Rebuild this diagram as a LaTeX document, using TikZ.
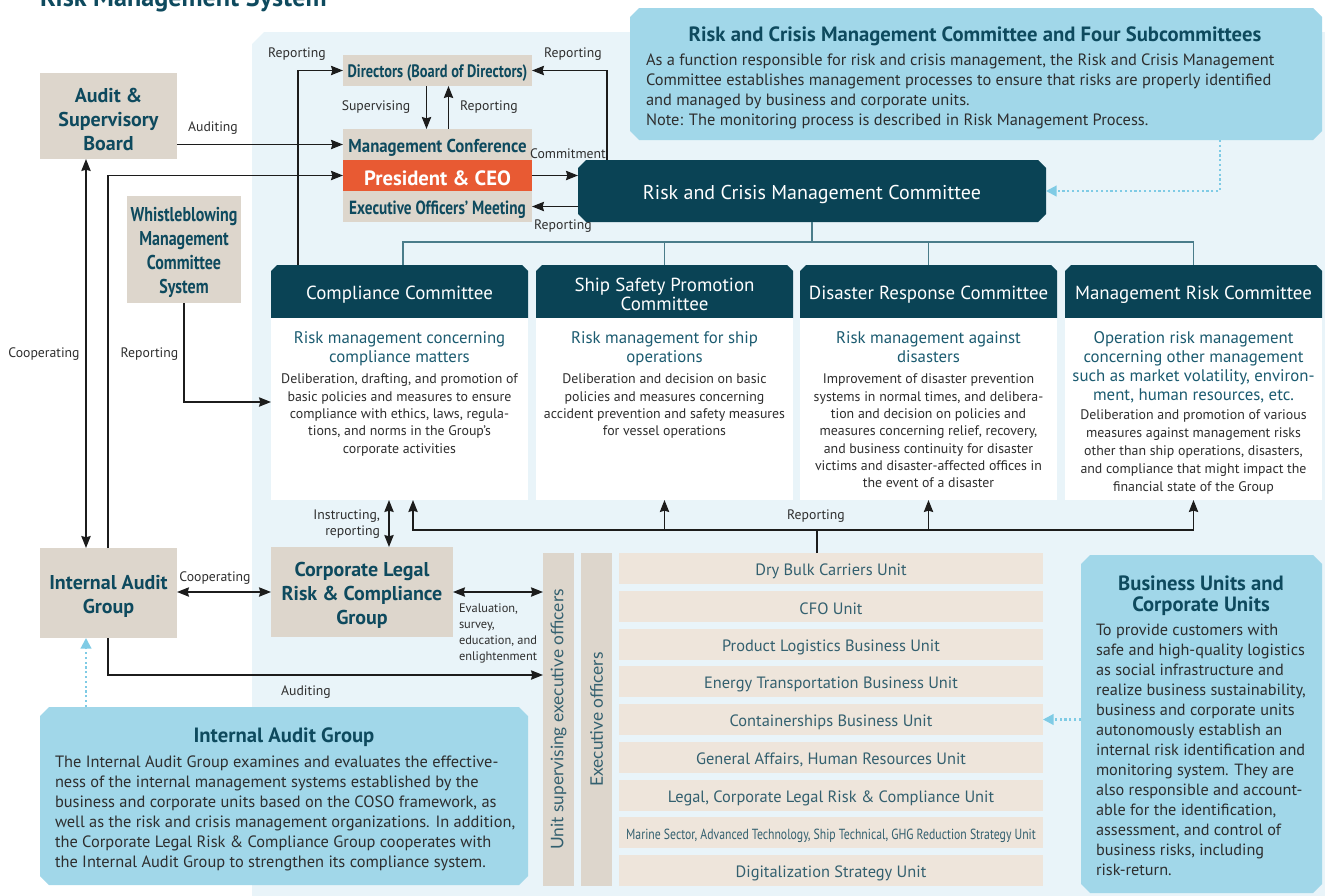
\documentclass[tikz,border=0pt]{standalone}
\usepackage{fontspec}
\setmainfont{PT Sans}
\newfontfamily\cnd[FakeStretch=0.8]{PT Sans}
\newfontfamily\cndm[FakeStretch=0.9]{PT Sans}
\newfontfamily\wide{Lato}
\usetikzlibrary{arrows.meta,calc}
\definecolor{dteal}{HTML}{0A4355}
\definecolor{ttxt}{HTML}{0E4A5E}
\definecolor{tanc}{HTML}{DDD6CC}
\definecolor{ltan}{HTML}{EEE5DB}
\definecolor{orng}{HTML}{E85A33}
\definecolor{lblue}{HTML}{A1D7E9}
\definecolor{panelc}{HTML}{E9F4F9}
\definecolor{subt}{HTML}{1B5B70}
\definecolor{bodyc}{HTML}{2E2E2E}
\definecolor{unitc}{HTML}{33606F}
\definecolor{lnc}{HTML}{1C1C1C}
\definecolor{treec}{HTML}{4A7C8A}
\definecolor{dotc}{HTML}{7FCBE5}
% box node from pixel corners
\newcommand\bx[7]{\node[#6, minimum width={((#4)-(#2))*0.75pt}, minimum height={((#5)-(#3))*0.75pt}] (#1) at ({((#2)+(#4))/2},{((#3)+(#5))/2}) {#7};}
% box node plus its text node (text set 3px lower for optical centring)
\newcommand\bxt[8]{\bx{#1}{#2}{#3}{#4}{#5}{#6}{}\node[#7] (#1t) at ($(#1.center)+(0,3)$) {#8};}
\newcommand\chf[6]{\fill[#1] ({(#2)+(#6)},#3) -- ({(#4)-(#6)},#3) -- (#4,{(#3)+(#6)}) -- (#4,{(#5)-(#6)}) -- ({(#4)-(#6)},#5) -- ({(#2)+(#6)},#5) -- (#2,{(#5)-(#6)}) -- (#2,{(#3)+(#6)}) -- cycle;}
\newcommand\chtop[6]{\fill[#1] ({(#2)+(#6)},#3) -- ({(#4)-(#6)},#3) -- (#4,{(#3)+(#6)}) -- (#4,#5) -- (#2,#5) -- (#2,{(#3)+(#6)}) -- cycle;}
\begin{document}
\begin{tikzpicture}[x=0.75pt,y=-0.75pt,
 base/.style={inner sep=0pt, outer sep=0pt},
 tanfill/.style={base, fill=tanc},
 tantxt/.style={base, text=ttxt, align=center, font=\bfseries\fontsize{15}{18}\selectfont},
 wbtxt/.style={base, text=ttxt, align=center, font=\cnd\bfseries\fontsize{15}{18}\selectfont},
 stacktxt/.style={base, text=ttxt, font=\cnd\bfseries\fontsize{14}{16}\selectfont},
 orngfill/.style={base, fill=orng},
 ceotxt/.style={base, text=white, font=\bfseries\fontsize{15.5}{17}\selectfont},
 darktxt/.style={base, text=white, font=\fontsize{15}{17}\selectfont},
 hdrtxt/.style={base, text=white, align=center, font=\fontsize{14.2}{14.3}\selectfont},
 bodybox/.style={base, fill=white},
 subtxt/.style={base, anchor=north, text=subt, align=center, font=\fontsize{12.6}{14.2}\selectfont},
 desctxt/.style={base, anchor=north, text=bodyc, align=center, font=\fontsize{10.4}{13}\selectfont},
 lbl/.style={base, text=bodyc, font=\fontsize{10.3}{12}\selectfont},
 rowfill/.style={base, fill=ltan},
 rowtxt/.style={base, text=unitc, font=\fontsize{12.3}{14}\selectfont},
 barbox/.style={base, fill=tanc},
 vtxt/.style={base, rotate=90, text=unitc, font=\wide\fontsize{13}{15}\selectfont},
 btitle/.style={base, text=ttxt, align=center, font=\bfseries\fontsize{15.5}{15.75}\selectfont},
 btext/.style={base, anchor=north west, text=bodyc, align=left, font=\fontsize{12.3}{15}\selectfont},
 arr/.style={draw=lnc, line width=1pt, -{Stealth[length=9pt,width=7pt,inset=1pt]}},
 darr/.style={draw=lnc, line width=1pt, {Stealth[length=9pt,width=7pt,inset=1pt]}-{Stealth[length=9pt,width=7pt,inset=1pt]}},
 plain/.style={draw=lnc, line width=1pt},
 tree/.style={draw=treec, line width=0.8pt},
 dotarr/.style={draw=dotc, line width=1.6pt, dotted, -{Triangle[length=8pt,width=8pt]}}
]
\useasboundingbox (0,0) rectangle (1325,896);
% background panel
\fill[panelc] (264,32) -- (1325,32) -- (1325,896) -- (252,896) -- (252,44) -- cycle;
% title
\node[base, anchor=base west, text=ttxt, font=\bfseries\fontsize{19.6}{22}\selectfont] (title) at (40,6) {Risk Management System};

% top right explanation box
\chf{lblue}{630}{8}{1322}{140}{9}
\bx{rcbox}{630}{8}{1322}{140}{base}{}
\node[btitle] (rct) at (975,36) {Risk and Crisis Management Committee and Four Subcommittees};
\node[btext] (rcb) at (646,54) {As a function responsible for risk and crisis management, the Risk and Crisis Management\\Committee establishes management processes to ensure that risks are properly identified\\and managed by business and corporate units.\\Note: The monitoring process is described in Risk Management Process.};

% left tan boxes
\bxt{asb}{40}{73}{177}{159}{tanfill}{tantxt}{Audit \&\\Supervisory\\Board}
\bxt{wb}{127}{196}{241}{303}{tanfill}{wbtxt}{Whistleblowing\\Management\\Committee\\System}
\bxt{iag}{40}{548}{177}{638}{tanfill}{tantxt}{Internal Audit\\Group}
\bxt{clrcg}{271}{547}{453}{637}{tanfill}{tantxt}{Corporate Legal\\Risk \& Compliance\\Group}

% central stack
\bxt{dir}{343}{55}{532}{86}{tanfill}{stacktxt, font=\cnd\bfseries\fontsize{13.5}{16}\selectfont}{Directors (Board of Directors)}
\bxt{mc}{343}{129}{532}{160}{tanfill}{stacktxt, font=\cndm\bfseries\fontsize{14}{16}\selectfont}{Management Conference}
\bxt{ceo}{343}{160}{532}{191}{orngfill}{ceotxt}{President \& CEO}
\bxt{eom}{343}{191}{532}{222}{tanfill}{stacktxt, font=\cnd\bfseries\fontsize{14.3}{16}\selectfont}{Executive Officers’ Meeting}

% risk and crisis management committee
\chf{dteal}{578}{160}{1046}{222}{8}
\bxt{rcmc}{578}{160}{1046}{222}{base}{darktxt}{Risk and Crisis Management Committee}

% committees
\chtop{dteal}{271}{265}{528}{318}{6}
\bxt{hdr1}{271}{265}{528}{318}{base}{hdrtxt}{Compliance Committee}
\bx{body1}{271}{318}{528}{500}{bodybox}{}
\chtop{dteal}{536}{265}{793}{318}{6}
\bxt{hdr2}{536}{265}{793}{318}{base}{hdrtxt}{Ship Safety Promotion\\Committee}
\bx{body2}{536}{318}{793}{500}{bodybox}{}
\chtop{dteal}{800}{265}{1057}{318}{6}
\bxt{hdr3}{800}{265}{1057}{318}{base}{hdrtxt}{Disaster Response Committee}
\bx{body3}{800}{318}{1057}{500}{bodybox}{}
\chtop{dteal}{1065}{265}{1322}{318}{6}
\bxt{hdr4}{1065}{265}{1322}{318}{base}{hdrtxt}{Management Risk Committee}
\bx{body4}{1065}{318}{1322}{500}{bodybox}{}

\node[subtxt] (sub1) at (399.5,331.5) {Risk management concerning\\compliance matters};
\node[desctxt] (desc1) at (399.5,374) {Deliberation, drafting, and promotion of\\basic policies and measures to ensure\\compliance with ethics, laws, regula-\\tions, and norms in the Group’s\\corporate activities};
\node[subtxt] (sub2) at (664.5,331.5) {Risk management for ship\\operations};
\node[desctxt] (desc2) at (664.5,374) {Deliberation and decision on basic\\policies and measures concerning\\accident prevention and safety measures\\for vessel operations};
\node[subtxt] (sub3) at (928.5,331.5) {Risk management against\\disasters};
\node[desctxt] (desc3) at (928.5,374) {Improvement of disaster prevention\\systems in normal times, and delibera-\\tion and decision on policies and\\measures concerning relief, recovery,\\and business continuity for disaster\\victims and disaster-affected offices in\\the event of a disaster};
\node[subtxt] (sub4) at (1193.5,331.5) {Operation risk management\\concerning other management\\such as market volatility, environ-\\ment, human resources, etc.};
\node[desctxt, font=\fontsize{10.4}{13.5}\selectfont] (desc4) at (1193.5,409.5) {Deliberation and promotion of various\\measures against management risks\\other than ship operations, disasters,\\and compliance that might impact the\\financial state of the Group};

% executive bars and unit rows
\bx{bar1}{543}{553}{574}{886}{barbox}{}
\bx{bar2}{581}{553}{612}{886}{barbox}{}
\node[vtxt] (bar1t) at (bar1.center) {Unit supervising executive officers};
\node[vtxt] (bar2t) at (bar2.center) {Executive officers};
\foreach \i/\t in {1/{Dry Bulk Carriers Unit},2/{CFO Unit},3/{Product Logistics Business Unit},4/{Energy Transportation Business Unit},5/{Containerships Business Unit},6/{General Affairs, Human Resources Unit},7/{Legal, Corporate Legal Risk \& Compliance Unit},8/{\cnd\fontsize{11}{13}\selectfont Marine Sector, Advanced Technology, Ship Technical, GHG Reduction Strategy Unit},9/{Digitalization Strategy Unit}}{
 \bxt{row\i}{619}{553+(\i-1)*37.75}{1043}{553+(\i-1)*37.75+31}{rowfill}{rowtxt}{\t}
}

% business units box
\chf{lblue}{1081}{555}{1322}{893}{9}
\bx{bubox}{1081}{555}{1322}{893}{base}{}
\node[btitle] (but) at (1201,595.5) {Business Units and\\Corporate Units};
\node[btext, font=\fontsize{12.2}{15}\selectfont] (bub) at (1096,624) {To provide customers with\\safe and high-quality logistics\\as social infrastructure and\\realize business sustainability,\\business and corporate units\\autonomously establish an\\internal risk identification and\\monitoring system. They are\\also responsible and account-\\able for the identification,\\assessment, and control of\\business risks, including\\risk-return.};

% internal audit group box
\chf{lblue}{40}{707}{528}{885}{9}
\bx{iabox}{40}{707}{528}{885}{base}{}
\node[btitle] (iat) at (284,737) {Internal Audit Group};
\node[btext] (iab) at (55,756) {The Internal Audit Group examines and evaluates the effective-\\ness of the internal management systems established by the\\business and corporate units based on the COSO framework, as\\well as the risk and crisis management organizations. In addition,\\the Corporate Legal Risk \& Compliance Group cooperates with\\the Internal Audit Group to strengthen its compliance system.};

% labels
\node[lbl] (l1) at (297,54) {Reporting};
\node[lbl] (l2) at (573,54) {Reporting};
\node[lbl] (l3) at (376,107) {Supervising};
\node[lbl] (l4) at (489,107) {Reporting};
\node[lbl] (l5) at (213,128) {Auditing};
\node[lbl] (l6) at (568,154) {Commitment};
\node[lbl] (l7) at (563,226) {Reporting};
\node[lbl] (l8) at (44,354) {Cooperating};
\node[lbl] (l9) at (149.5,354) {Reporting};
\node[lbl, anchor=east, align=right] (l10) at (380,524) {Instructing,\\reporting};
\node[lbl] (l11) at (816,516) {Reporting};
\node[lbl] (l12) at (215,578) {Cooperating};
\node[lbl, anchor=north west, align=left, font=\fontsize{9.3}{12}\selectfont] (l13) at (459,604) {Evaluation,\\survey,\\education, and\\enlightenment};
\node[lbl] (l14) at (306,692) {Auditing};

% connectors
\coordinate (c1) at ($(hdr1.north west)+(27,0)$);
\draw[arr] (c1) |- (dir.west);
\coordinate (c2) at ($(rcmc.north west)+(29,0)$);
\draw[arr] (c2) |- (dir.east);
\draw[arr] ($(dir.south)+(-11,0)$) -- ($(mc.north)+(-11,0)$);
\draw[arr] ($(mc.north)+(11,0)$) -- ($(dir.south)+(11,0)$);
\draw[arr] (asb.east |- mc.west) -- (mc.west);
\draw[arr] ($(iag.north west)+(68,0)$) |- (ceo.west);
\draw[darr] ($(asb.south west)+(46,0)$) -- ($(iag.north west)+(46,0)$);
\draw[arr] (ceo.east) -- (ceo.east -| rcmc.west);
\draw[arr] (rcmc.west |- eom.east) -- (eom.east);

\coordinate (tj) at (812,242);
\draw[tree] (rcmc.south) -- (tj);
\draw[tree] ($(hdr1.north)+(3.5,0)$) |- (tj) -| (hdr4.north);
\draw[tree] (hdr2.north) -- (hdr2.north |- tj);
\draw[tree] (hdr3.north) -- (hdr3.north |- tj);

\coordinate (c3) at ($(body1.north west)+(0,84)$);
\draw[arr] (wb.south) |- (c3);
\draw[darr] ($(body1.south west)+(118,0)$) -- ($(clrcg.north west)+(118,0)$);

\coordinate (rj) at (817,530);
\draw[plain] ($(row1.north west)+(198,0)$) -- (rj);
\draw[arr] (rj) -| ($(body1.south west)+(142,0)$);
\draw[arr] (rj) -| (body2.south);
\draw[arr] (rj) -| (body3.south);
\draw[arr] (rj) -| (body4.south);

\draw[darr] (iag.east |- clrcg.west) -- (clrcg.west);
\draw[darr] (clrcg.east) -- (clrcg.east -| bar1.west);
\draw[arr] ($(iag.south west)+(68,0)$) |- ($(bar1.north west)+(0,122)$);

\draw[dotarr] ($(rcbox.south west)+(590,0)$) |- (rcmc.east);
\draw[dotarr] (bubox.west |- row5.east) -- (row5.east);
\draw[dotarr] ($(iabox.north west)+(46,0)$) -- ($(iag.south west)+(46,0)$);
\end{tikzpicture}
\end{document}
